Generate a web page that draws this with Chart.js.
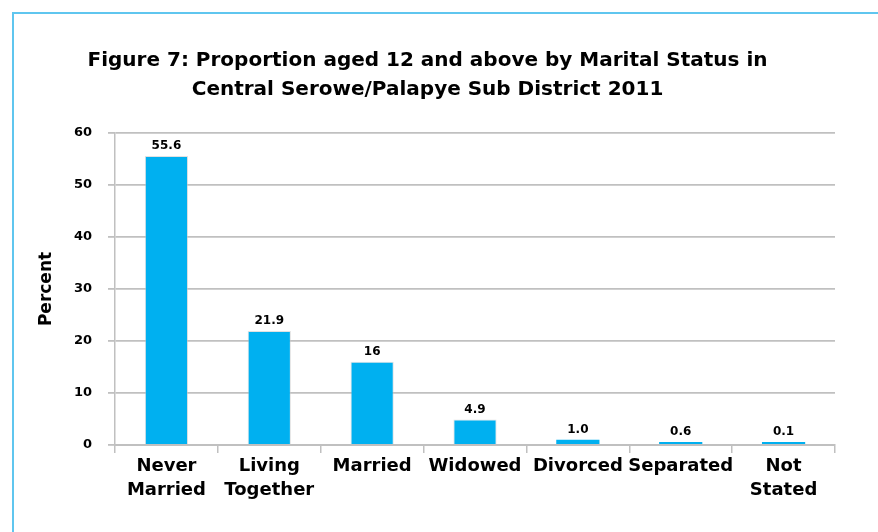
<!DOCTYPE html>
<html>
<head>
<meta charset="utf-8">
<script src="https://cdn.jsdelivr.net/npm/chart.js@4"></script>
<style>
  html, body { margin: 0; padding: 0; background: #fff; }
  #wrap { position: relative; width: 878px; height: 532px; overflow: hidden; }
  #frame { position: absolute; left: 12px; top: 12px; width: 900px; height: 600px;
           border-top: 2px solid #5fc6ef; border-left: 2px solid #5fc6ef; }
  canvas { position: absolute; left: 0; top: 0; }
</style>
</head>
<body>
<div id="wrap">
  <div id="frame"></div>
  <canvas id="chart" width="878" height="532"></canvas>
</div>
<script>
// Chart data
const categories = [['Never', 'Married'], ['Living', 'Together'], 'Married', 'Widowed', 'Divorced', 'Separated', ['Not', 'Stated']];
const percents = [55.6, 21.9, 16, 4.9, 1.0, 0.6, 0.1];
const valueLabels = ['55.6', '21.9', '16', '4.9', '1.0', '0.6', '0.1'];
const yMin = 0, yMax = 60, yStep = 10;

const FONT = '"DejaVu Sans", sans-serif';

// draws the numbers above each bar
const barValues = {
  id: 'barValues',
  afterDatasetsDraw(chart) {
    const ctx = chart.ctx;
    const meta = chart.getDatasetMeta(0);
    ctx.save();
    ctx.font = 'bold 12px ' + FONT;
    ctx.fillStyle = '#000';
    ctx.textAlign = 'center';
    ctx.textBaseline = 'bottom';
    meta.data.forEach((bar, i) => {
      ctx.fillText(valueLabels[i], bar.x, bar.y - 4);
    });
    ctx.restore();
  }
};

new Chart(document.getElementById('chart').getContext('2d'), {
  type: 'bar',
  data: {
    labels: categories,
    datasets: [{
      data: percents,
      backgroundColor: '#00b0f0',
      borderColor: 'rgba(200,200,200,0.55)',
      // thin bars get no outline so they stay blue
      borderWidth: c => (percents[c.dataIndex] < 2 ? 0 : 1),
      minBarLength: 3,
      categoryPercentage: 1,
      barPercentage: 0.42
    }]
  },
  options: {
    responsive: false,
    animation: false,
    layout: { padding: { left: 20, right: 43, top: 12, bottom: 0 } },
    plugins: {
      legend: { display: false },
      tooltip: { enabled: false },
      title: {
        display: true,
        text: ['Figure 7: Proportion aged 12 and above by Marital Status in',
               'Central Serowe/Palapye Sub District 2011'],
        color: '#000',
        font: { family: FONT, size: 20, weight: 'bold', lineHeight: 1.45 },
        padding: { top: 34, bottom: 29 }
      }
    },
    scales: {
      x: {
        afterFit(scale) { scale.height = 87; },
        grid: { offset: true, drawOnChartArea: false, color: '#c0c0c0', lineWidth: 1.5, tickLength: 8 },
        border: { color: '#c0c0c0', width: 2 },
        ticks: {
          color: '#000',
          padding: 2,
          maxRotation: 0,
          autoSkip: false,
          font: { family: FONT, size: 18, weight: 'bold', lineHeight: 1.3 }
        }
      },
      y: {
        min: yMin,
        max: yMax,
        afterFit(scale) { scale.width = 95; },
        grid: { color: '#c0c0c0', lineWidth: 1.8, tickLength: 7 },
        border: { color: '#c0c0c0', width: 1.5 },
        ticks: {
          stepSize: yStep,
          color: '#000',
          padding: 16,
          font: { family: FONT, size: 13, weight: 'bold' }
        },
        title: {
          display: true,
          text: 'Percent',
          color: '#000',
          padding: { top: 16 },
          font: { family: FONT, size: 17, weight: 'bold' }
        }
      }
    }
  },
  plugins: [barValues]
});
</script>
</body>
</html>
